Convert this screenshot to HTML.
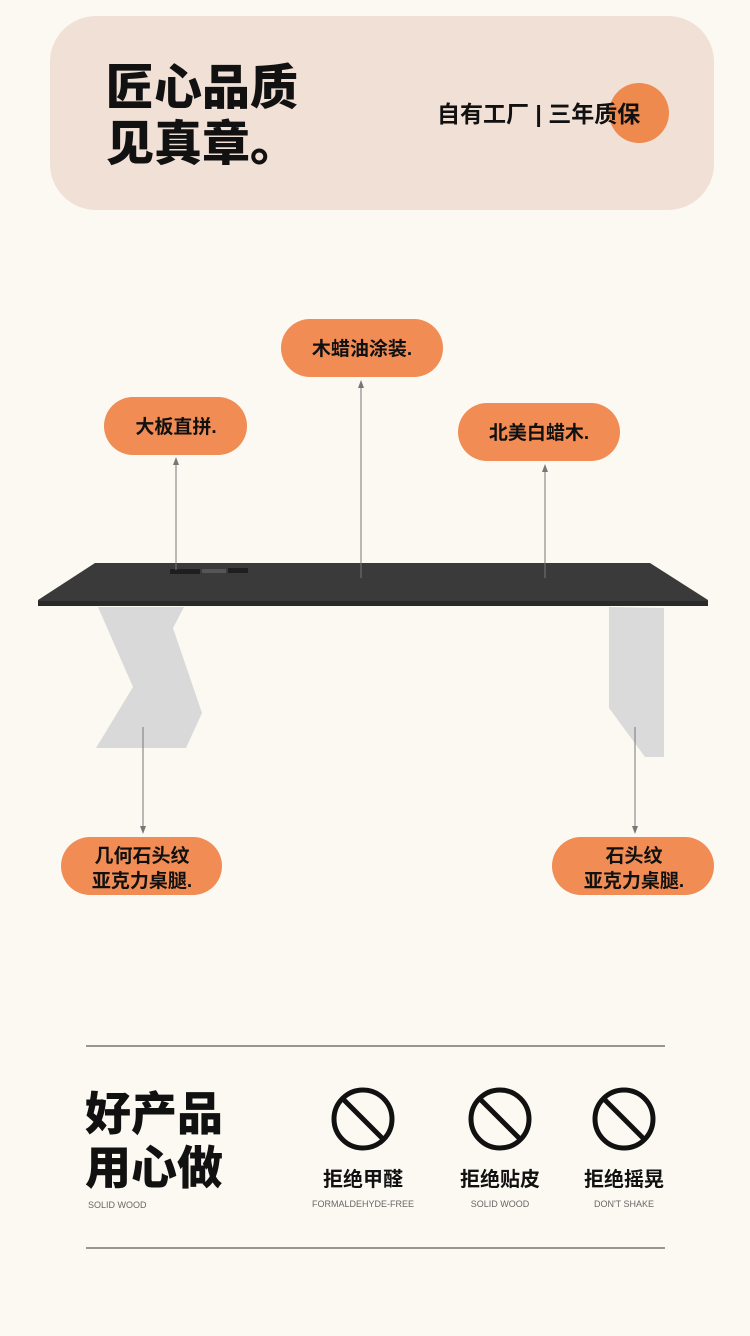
<!DOCTYPE html>
<html><head><meta charset="utf-8"><style>
body{margin:0;background:#fcf9f2;}
svg text{font-family:"Liberation Sans","Noto Sans CJK SC",sans-serif;}
</style></head><body>
<svg width="750" height="1331" viewBox="0 0 750 1331" xmlns="http://www.w3.org/2000/svg">
<defs><marker id="a" markerWidth="8" markerHeight="8" refX="4" refY="4" orient="auto"><path d="M0,1 L8,4 L0,7z" fill="#777"/></marker></defs>
<rect width="750" height="1331" fill="#fcf9f2"/>
<rect x="50" y="16" width="664" height="194" rx="46" fill="#f1e0d6"/>
<text x="106" y="104" font-size="48" font-weight="900" fill="#111">匠心品质</text>
<text x="106" y="160" font-size="48" font-weight="900" fill="#111">见真章。</text>
<circle cx="639" cy="113" r="30" fill="#ef8a4f"/>
<text x="437" y="122" font-size="23" font-weight="700" fill="#111">自有工厂 | 三年质保</text>

<g fill="#f08c54">
<rect x="104" y="397" width="143" height="58" rx="29"/>
<rect x="281" y="319" width="162" height="58" rx="29"/>
<rect x="458" y="403" width="162" height="58" rx="29"/>
<rect x="61" y="837" width="161" height="58" rx="29"/>
<rect x="552" y="837" width="162" height="58" rx="29"/>
</g>
<g font-size="19" font-weight="700" fill="#111" text-anchor="middle">
<text x="176" y="433">大板直拼.</text>
<text x="362" y="355">木蜡油涂装.</text>
<text x="539" y="439">北美白蜡木.</text>
<text x="142" y="862">几何石头纹</text>
<text x="142" y="887">亚克力桌腿.</text>
<text x="634" y="862">石头纹</text>
<text x="634" y="887">亚克力桌腿.</text>
</g>

<polygon points="98,607 184,607 173,628 202,713 186,748 96,748 133,687" fill="#d9d9d9"/>
<polygon points="609,607 664,608 664,757 645,757 609,708" fill="#dadada"/>
<polygon points="95,563 650,563 708,600 708,606 38,606 38,600" fill="#3a3a3a"/>
<rect x="38" y="601" width="670" height="5" fill="#2a2a2a"/>
<rect x="170" y="569" width="30" height="5" fill="#1e1e1e"/>
<rect x="202" y="569" width="24" height="4" fill="#555"/>
<rect x="228" y="568" width="20" height="5" fill="#1e1e1e"/>

<g stroke="#777" stroke-width="1" marker-end="url(#a)">
<line x1="176" y1="570" x2="176" y2="461"/>
<line x1="361" y1="578" x2="361" y2="384"/>
<line x1="545" y1="578" x2="545" y2="468"/>
<line x1="143" y1="727" x2="143" y2="830"/>
<line x1="635" y1="727" x2="635" y2="830"/>
</g>

<line x1="86" y1="1046" x2="665" y2="1046" stroke="#333" stroke-width="1"/>
<line x1="86" y1="1248" x2="665" y2="1248" stroke="#333" stroke-width="1"/>
<text x="85" y="1130" font-size="46" font-weight="900" fill="#111">好产品</text>
<text x="85" y="1184" font-size="46" font-weight="900" fill="#111">用心做</text>
<text x="88" y="1208" font-size="9" fill="#666">SOLID WOOD</text>
<g fill="none" stroke="#111" stroke-width="5">
<circle cx="363" cy="1119" r="29"/><line x1="343" y1="1099" x2="383" y2="1139"/>
<circle cx="500" cy="1119" r="29"/><line x1="480" y1="1099" x2="520" y2="1139"/>
<circle cx="624" cy="1119" r="29"/><line x1="604" y1="1099" x2="644" y2="1139"/>
</g>
<g text-anchor="middle">
<text x="363" y="1186" font-size="20" font-weight="700" fill="#111">拒绝甲醛</text>
<text x="500" y="1186" font-size="20" font-weight="700" fill="#111">拒绝贴皮</text>
<text x="624" y="1186" font-size="20" font-weight="700" fill="#111">拒绝摇晃</text>
<text x="363" y="1207" font-size="9" fill="#666">FORMALDEHYDE-FREE</text>
<text x="500" y="1207" font-size="9" fill="#666">SOLID WOOD</text>
<text x="624" y="1207" font-size="9" fill="#666">DON'T SHAKE</text>
</g>
</svg>
</body></html>
